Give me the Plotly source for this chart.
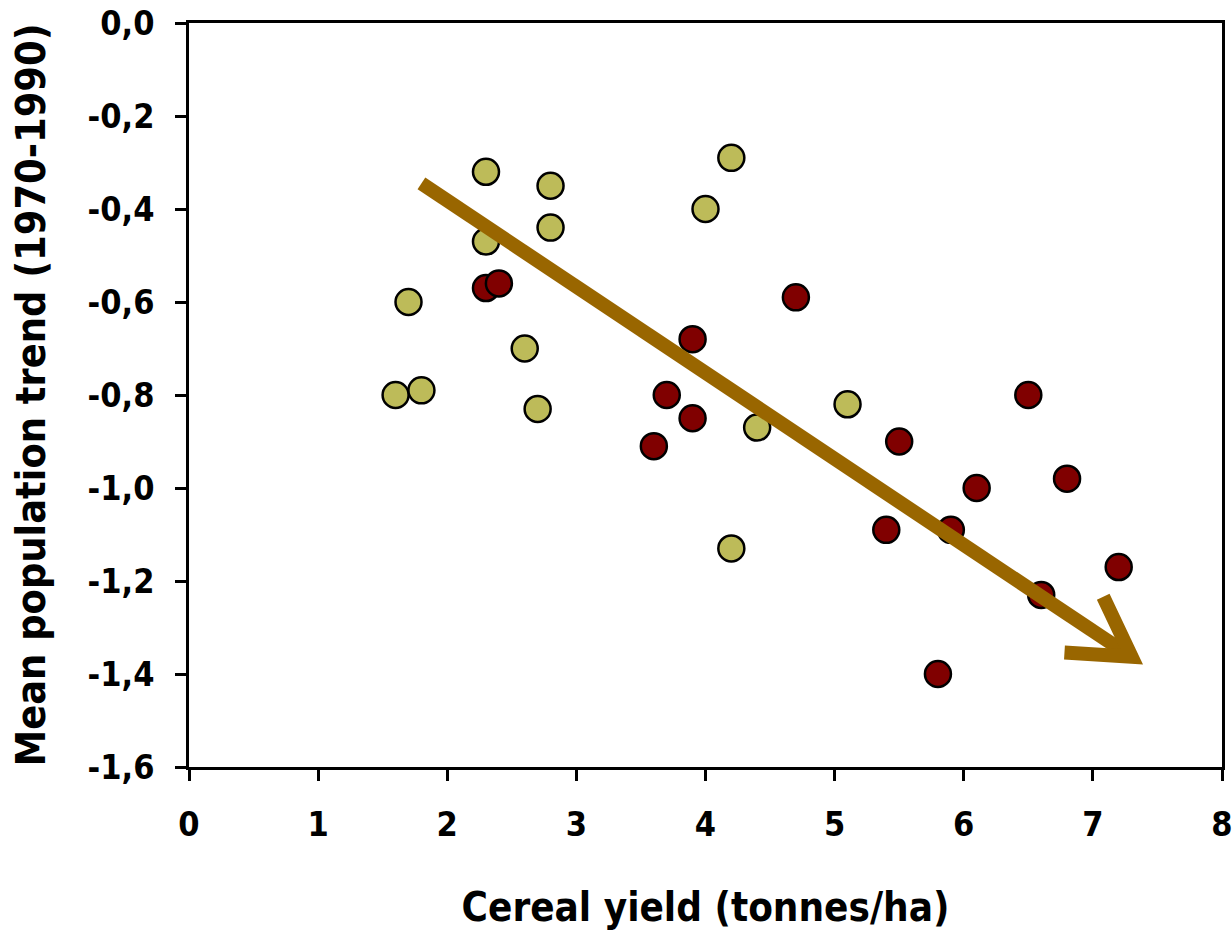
import plotly.graph_objects as go

# Low-yield countries (olive) and high-yield countries (dark red)
olive_x = [1.6, 1.7, 1.8, 2.3, 2.3, 2.6, 2.7, 2.8, 2.8, 4.0, 4.2, 4.4, 4.2, 5.1]
olive_y = [-0.80, -0.60, -0.79, -0.32, -0.47, -0.70, -0.83, -0.35, -0.44, -0.40, -0.29, -0.87, -1.13, -0.82]
red_x = [2.3, 2.4, 3.6, 3.7, 3.9, 3.9, 4.7, 5.4, 5.5, 5.8, 5.9, 6.1, 6.6, 6.5, 6.8, 7.2]
red_y = [-0.57, -0.56, -0.91, -0.80, -0.68, -0.85, -0.59, -1.09, -0.90, -1.40, -1.09, -1.00, -1.23, -0.80, -0.98, -1.17]

# Trend arrow (start, head vertex, head arms)
arrow_start = (1.80, -0.345)
arrow_tip = (7.30, -1.363)
arrow_arm1 = (6.78, -1.354)
arrow_arm2 = (7.08, -1.234)

x_ticks = [0, 1, 2, 3, 4, 5, 6, 7, 8]
y_ticks = [0.0, -0.2, -0.4, -0.6, -0.8, -1.0, -1.2, -1.4, -1.6]
y_tick_labels = ["0,0", "-0,2", "-0,4", "-0,6", "-0,8", "-1,0", "-1,2", "-1,4", "-1,6"]

FONT = "DejaVu Sans Condensed, DejaVu Sans"
ARROW_COLOR = "#996600"

fig = go.Figure()

marker_common = dict(size=26, line=dict(color="black", width=2.5))

fig.add_trace(go.Scatter(x=olive_x, y=olive_y, mode="markers",
                         marker=dict(color="#BDBB59", **marker_common),
                         showlegend=False, cliponaxis=False))
fig.add_trace(go.Scatter(x=red_x, y=red_y, mode="markers",
                         marker=dict(color="#800000", **marker_common),
                         showlegend=False, cliponaxis=False))

fig.add_shape(type="line", xref="x", yref="y",
              x0=arrow_start[0], y0=arrow_start[1], x1=arrow_tip[0], y1=arrow_tip[1],
              line=dict(color=ARROW_COLOR, width=14), layer="above")
fig.add_shape(type="path", xref="x", yref="y",
              path=f"M {arrow_arm1[0]} {arrow_arm1[1]} L {arrow_tip[0]} {arrow_tip[1]} L {arrow_arm2[0]} {arrow_arm2[1]}",
              line=dict(color=ARROW_COLOR, width=14), layer="above")

axis_common = dict(showgrid=False, zeroline=False, showline=True, linecolor="black",
                   linewidth=2.5, mirror=True, ticks="outside", ticklen=11,
                   tickwidth=2.5, tickcolor="black", automargin=False,
                   ticklabeloverflow="allow")

fig.update_xaxes(range=[0, 8], tickvals=x_ticks, ticktext=[str(v) for v in x_ticks],
                 tickfont=dict(family=FONT, size=34, color="black", weight="bold"),
                 ticklabelstandoff=14,
                 title=dict(text="Cereal yield (tonnes/ha)", standoff=51,
                            font=dict(family=FONT, size=40, color="black", weight="bold")),
                 **axis_common)
fig.update_yaxes(range=[-1.6, 0], tickvals=y_ticks, ticktext=y_tick_labels,
                 tickfont=dict(family=FONT, size=34, color="black", weight="bold"),
                 ticklabelstandoff=14,
                 title=dict(text="Mean population trend (1970-1990)", standoff=30,
                            font=dict(family=FONT, size=41, color="black", weight="bold")),
                 **axis_common)

fig.update_layout(width=1232, height=931, plot_bgcolor="white", paper_bgcolor="white",
                  margin=dict(l=189, r=10, t=23, b=164))

# remove the default 8px page margin so the figure fills the window exactly
fig.write_html("out.html", config={"displayModeBar": False},
               post_script="document.body.style.margin='0';document.body.style.overflow='hidden';")
